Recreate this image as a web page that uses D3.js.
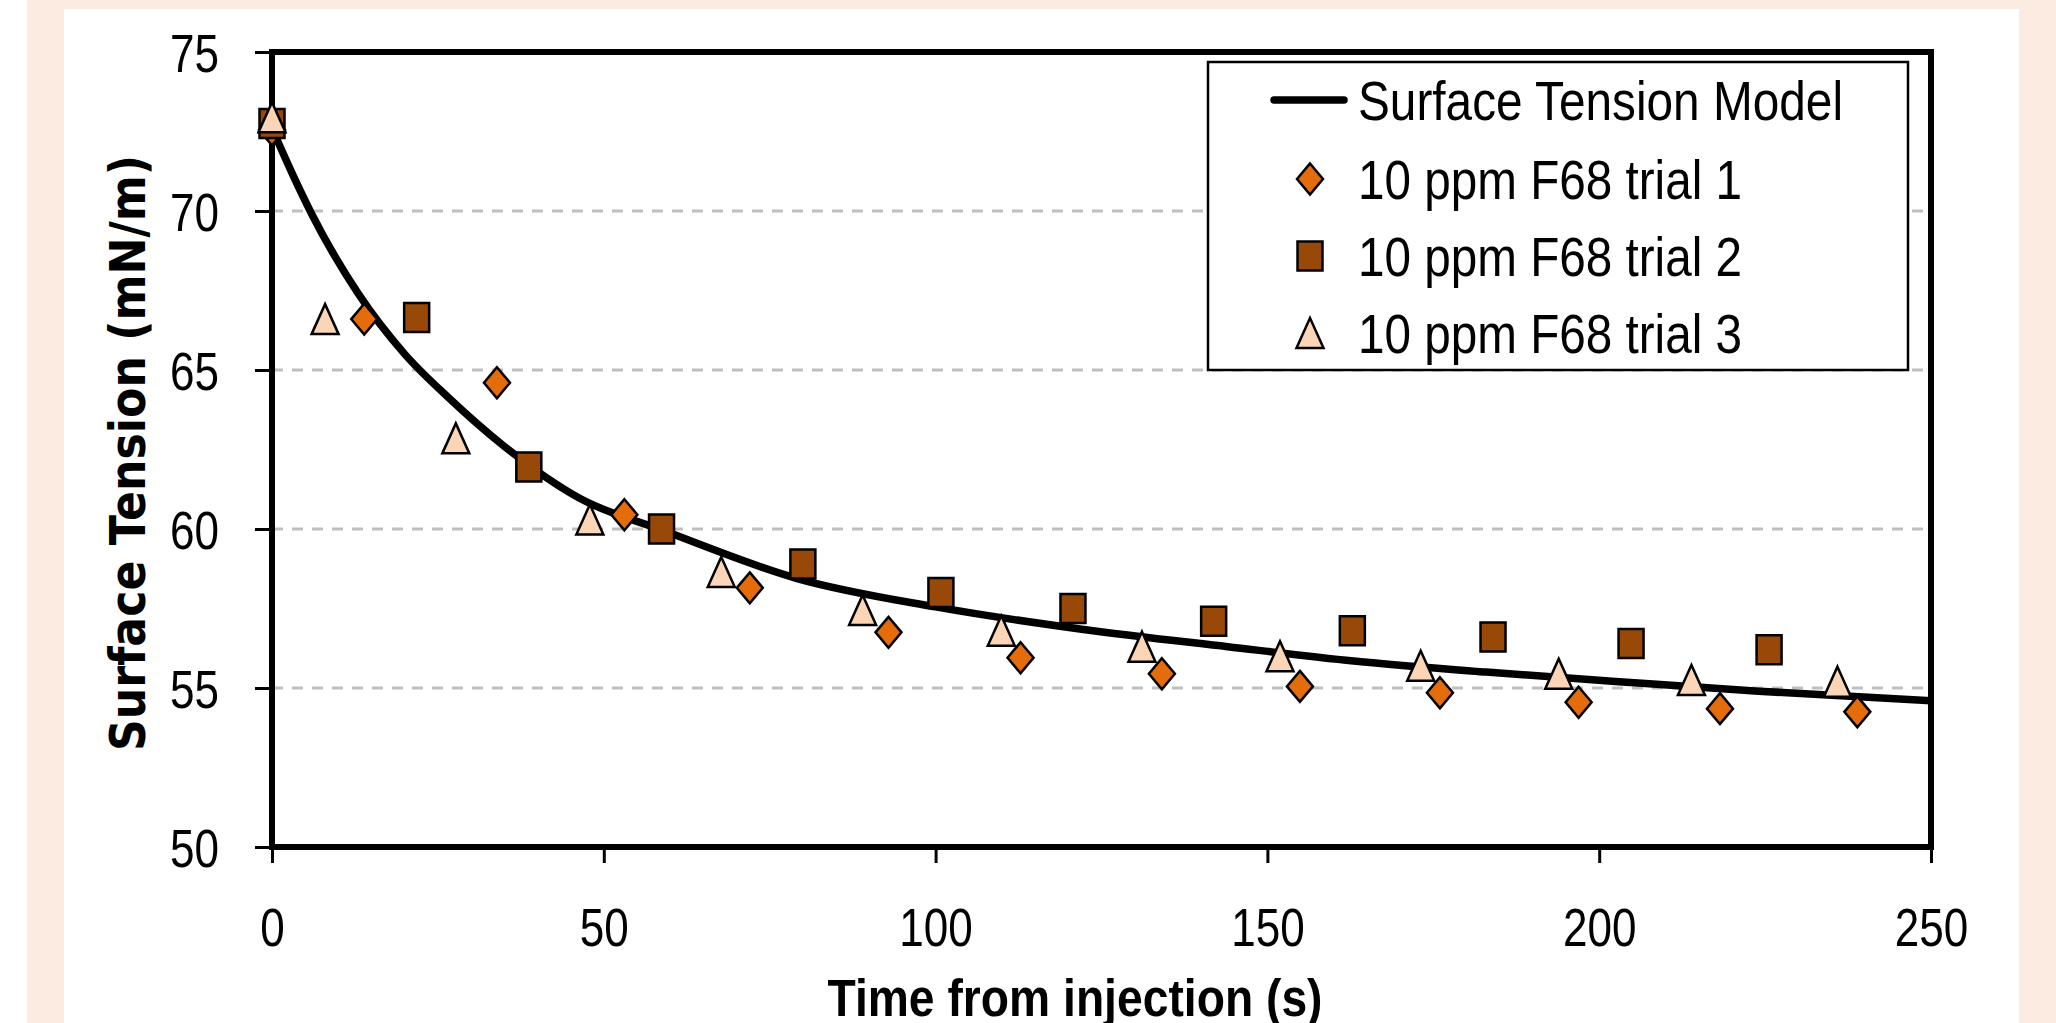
<!DOCTYPE html>
<html>
<head>
<meta charset="utf-8">
<script src="https://cdn.jsdelivr.net/npm/d3@7"></script>
<style>
  html, body { margin: 0; padding: 0; background: #fff; }
  svg { display: block; }
  .narrow { font-family: "Liberation Sans Narrow", "Arial Narrow", "Liberation Sans", sans-serif; }
</style>
</head>
<body>
<svg id="chart" width="2056" height="1023"></svg>
<script>
// series: [time (s), surface tension (mN/m)]
var trial1 = [[0, 72.55], [13.9, 66.6], [33.9, 64.6], [53.1, 60.45], [72.0, 58.15], [92.9, 56.75],
              [112.8, 55.95], [134.1, 55.45], [154.9, 55.05], [176.0, 54.85], [196.9, 54.55],
              [218.2, 54.35], [238.9, 54.25]];

var trial2 = [[0, 72.75], [21.8, 66.65], [38.7, 61.95], [58.7, 60.0], [80.0, 58.9], [100.8, 58.0],
              [120.7, 57.5], [141.9, 57.1], [162.8, 56.8], [184.0, 56.6], [204.8, 56.4], [225.6, 56.2]];

var trial3 = [[0, 72.95], [8.0, 66.6], [27.7, 62.85], [47.9, 60.3], [67.7, 58.65], [89.0, 57.45],
              [109.9, 56.8], [131.1, 56.3], [151.9, 56.0], [173.1, 55.7], [193.9, 55.45],
              [213.9, 55.25], [235.9, 55.2]];

// model curve
var model = [[0, 72.6], [3, 71.2], [6, 69.9], [13, 67.4], [20, 65.5], [26.5, 64.15], [35, 62.6],
             [46.5, 60.95], [59, 59.95], [79, 58.45], [100, 57.55], [122, 56.85], [144, 56.3],
             [163, 55.85], [183, 55.5], [203, 55.2], [224, 54.9], [250, 54.6]];

var xTicks = [0, 50, 100, 150, 200, 250];
var yTicks = [50, 55, 60, 65, 70, 75];
var gridTicks = [55, 60, 65, 70];
var legendNames = ["Surface Tension Model", "10 ppm F68 trial 1", "10 ppm F68 trial 2", "10 ppm F68 trial 3"];

var svg = d3.select("#chart");

// page frame
svg.append("rect").attr("x", 27).attr("y", 0).attr("width", 2029).attr("height", 1023).attr("fill", "#fcebe1");
svg.append("rect").attr("x", 64).attr("y", 9).attr("width", 1955).attr("height", 1014).attr("fill", "#fff");

var x = d3.scaleLinear().domain([0, 250]).range([272, 1931]),
    y = d3.scaleLinear().domain([50, 75]).range([847, 52]);

// gridlines
svg.append("g").selectAll("line").data(gridTicks).enter().append("line")
  .attr("x1", x(0)).attr("x2", x(250))
  .attr("y1", d=>y(d)).attr("y2", d=>y(d))
  .attr("stroke", "#bfbfbf").attr("stroke-width", 3).attr("stroke-dasharray", "11,9");

// axes
var yAxis = svg.append("g").attr("transform", "translate(" + x(0) + ",0)")
  .call(d3.axisLeft(y).tickValues(yTicks).tickSize(17).tickSizeOuter(0).tickPadding(36));
var xAxis = svg.append("g").attr("transform", "translate(0," + y(50) + ")")
  .call(d3.axisBottom(x).tickValues(xTicks).tickSize(16).tickSizeOuter(0));

// the labels are a compressed Calibri in the picture, so squeeze them to its widths
[yAxis, xAxis].forEach(function(g) {
  g.select(".domain").remove();
  g.selectAll(".tick line").attr("stroke", "#000").attr("stroke-width", 3);
  g.selectAll(".tick text").attr("class", "narrow").attr("font-size", 54).attr("fill", "#000")
    .attr("textLength", d=>String(d).length * 24.5).attr("lengthAdjust", "spacingAndGlyphs");
});
yAxis.selectAll(".tick text").attr("dy", "0.36em");
xAxis.selectAll(".tick text").attr("y", 99).attr("dy", 0);

// plot frame
svg.append("rect")
  .attr("x", x(0)).attr("y", y(75)).attr("width", x(250) - x(0)).attr("height", y(50) - y(75))
  .attr("fill", "none").attr("stroke", "#000").attr("stroke-width", 6);

// marker shapes
function diamond(w, h) { return "M0," + (-h/2) + "L" + (w/2) + ",0L0," + (h/2) + "L" + (-w/2) + ",0Z"; }
function square(w, h) { return "M" + (-w/2) + "," + (-h/2) + "h" + w + "v" + h + "h" + (-w) + "Z"; }
function triangle(w, h) { return "M0," + (-h/2) + "L" + (w/2) + "," + (h/2) + "L" + (-w/2) + "," + (h/2) + "Z"; }

var series = [
  {data: trial1, shape: diamond(26, 31), fill: "#e46c0a"},
  {data: trial2, shape: square(25, 29), fill: "#984807"},
  {data: trial3, shape: triangle(27, 30), fill: "#fbd5b5"}
];

// model line
svg.append("path").datum(model)
  .attr("d", d3.line().x(d=>x(d[0])).y(d=>y(d[1])).curve(d3.curveMonotoneX))
  .attr("fill", "none").attr("stroke", "#000").attr("stroke-width", 7.5);

series.forEach(function(s) {
  svg.append("g").selectAll("path").data(s.data).enter().append("path")
    .attr("d", s.shape)
    .attr("transform", d=>"translate(" + x(d[0]) + "," + y(d[1]) + ")")
    .attr("fill", s.fill).attr("stroke", "#000").attr("stroke-width", 2.5);
});

// legend
var lg = svg.append("g");
lg.append("rect").attr("x", 1208).attr("y", 62).attr("width", 700).attr("height", 308)
  .attr("fill", "#fff").attr("stroke", "#000").attr("stroke-width", 2.5);
var rowY = [100, 179, 256, 333];
lg.append("line").attr("x1", 1274).attr("x2", 1344).attr("y1", rowY[0]).attr("y2", rowY[0])
  .attr("stroke", "#000").attr("stroke-width", 7.5).attr("stroke-linecap", "round");
series.forEach(function(s, i) {
  lg.append("path").attr("d", s.shape)
    .attr("transform", "translate(1310," + rowY[i + 1] + ")")
    .attr("fill", s.fill).attr("stroke", "#000").attr("stroke-width", 2.5);
});
var legendWidths = [485, 384, 384, 384];
lg.selectAll("text").data(legendNames).enter().append("text")
  .attr("class", "narrow").attr("font-size", 55)
  .attr("x", 1358).attr("y", (d, i) => rowY[i] + 20)
  .attr("textLength", (d, i) => legendWidths[i]).attr("lengthAdjust", "spacingAndGlyphs")
  .text(d=>d);

// axis titles
svg.append("text").attr("class", "narrow")
  .attr("x", 1075).attr("y", 1016).attr("text-anchor", "middle")
  .attr("font-size", 51).attr("font-weight", "bold")
  .attr("textLength", 495).attr("lengthAdjust", "spacingAndGlyphs")
  .text("Time from injection (s)");

svg.append("text")
  .attr("transform", "translate(145,453) rotate(-90)").attr("text-anchor", "middle")
  .attr("font-family", "'DejaVu Sans', Verdana, sans-serif").attr("font-size", 49).attr("font-weight", "bold")
  .attr("textLength", 596).attr("lengthAdjust", "spacingAndGlyphs")
  .text("Surface Tension (mN/m)");
</script>
</body>
</html>
